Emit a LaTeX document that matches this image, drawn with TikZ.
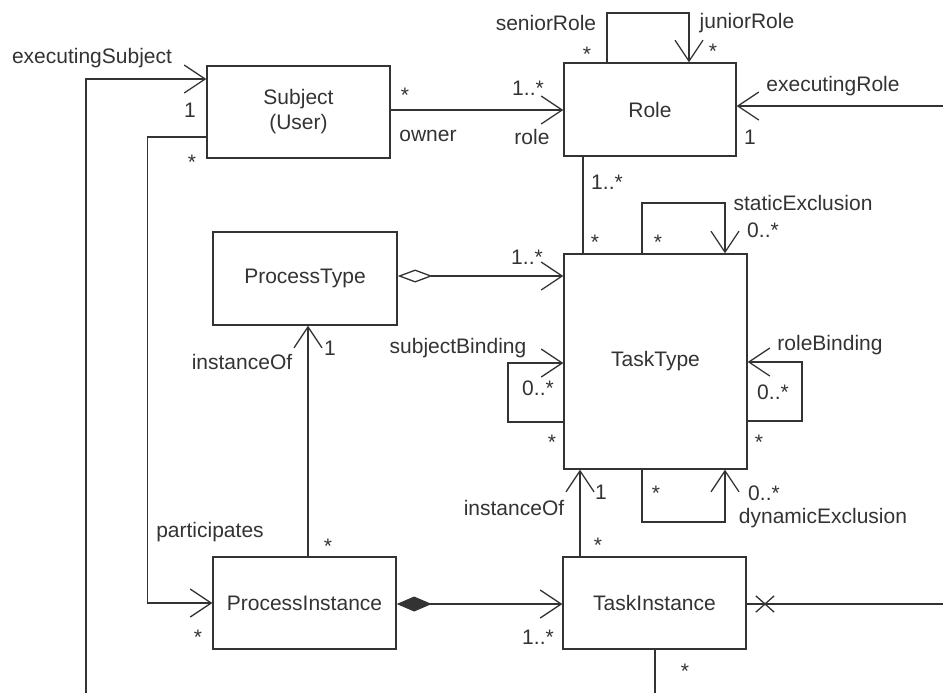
\documentclass[tikz,border=0pt]{standalone}
\usepackage{fontspec}
\setmainfont{Liberation Sans}
\usetikzlibrary{arrows.meta,shapes.misc}

\begin{document}
\begin{tikzpicture}[
x=0.5pt,
y=-0.5pt,
color=black!80,
line width=0.65pt,
font=\fontsize{10.5pt}{12.5pt}\selectfont,
class/.style={
  draw,
  rectangle,
  align=center,
  inner sep=0pt,
  minimum width=91.5pt,
  minimum height=46pt
  },
lbl/.style={
  inner sep=1pt
  },
mult/.style={
  inner sep=1pt,
  yshift=-2.3pt
  },
agg/.style={
  arrows={Diamond[open,length=17.5pt,width=6.5pt]-Straight Barb[length=10.5pt,width=14pt]}
  },
comp/.style={
  arrows={Diamond[length=17.5pt,width=7.5pt]-Straight Barb[length=10.5pt,width=14pt]}
  },
>={Straight Barb[length=10.5pt,width=14pt]}
]
\useasboundingbox (0,0) rectangle (943,693);

% classes
\node[class] (subject) at (298.5,112) {Subject\\(User)};
\node[class, minimum width=86pt, minimum height=46.5pt] (role) at (650,109.5) {Role};
\node[class, minimum width=92pt, minimum height=46.5pt] (ptype) at (305,278.5) {ProcessType};
\node[class, minimum height=107.5pt] (ttype) at (655.5,361.5) {TaskType};
\node[class] (pinst) at (304.5,603) {ProcessInstance};
\node[class] (tinst) at (654.5,603) {TaskInstance};

% loose ends at the border
\coordinate (es) at (86,693);
\coordinate (er) at (943,106);
\coordinate (ti) at (943,604);
\coordinate (tb) at (655,693);

% associations
\draw[->] (es) |- (subject.west |- 0,79);
\draw[->] (subject.west |- 0,137) -- ++(-59,0) |- (pinst.west);
\draw[->] (subject.east |- 0,110) -- (role.west |- 0,110);
\draw[->] (role.north -| 607,0) -- (607,13) -- (689,13) -- (role.north -| 689,0);
\draw[->] (er) -- (role.east |- er);
\draw (role.south -| 583,0) -- (ttype.north -| 583,0);
\draw[->] (ttype.north -| 642,0) -- (642,203) -- (725,203) -- (ttype.north -| 725,0);
\draw[->] (ttype.east |- 0,421) -- (802,421) -- (802,362) -- (ttype.east |- 0,362);
\draw[->] (ttype.west |- 0,422) -- (508,422) -- (508,363) -- (ttype.west |- 0,363);
\draw[->] (ttype.south -| 642,0) -- (642,522) -- (725,522) -- (ttype.south -| 725,0);
\draw[agg] (ptype.east |- 0,276) -- (ttype.west |- 0,276);
\draw[->] (pinst.north -| 308,0) -- (ptype.south -| 308,0);
\draw[comp] (pinst.east |- 0,604) -- (tinst.west |- 0,604);
\draw[->] (tinst.north -| 580,0) -- (ttype.south -| 580,0);
\draw (tinst.east |- ti) -- (ti);
\node[cross out, draw, inner sep=0pt, minimum width=8.5pt, minimum height=7.5pt] (xmark) at (765,604) {};
\draw (tinst.south -| tb) -- (tb);

% role names
\node[lbl] (lexsubj) at (92,58) {executingSubject};
\node[lbl] (lowner) at (428,136) {owner};
\node[lbl] (lrole) at (532,137) {role};
\node[lbl] (lsenior) at (546,23) {seniorRole};
\node[lbl] (ljunior) at (747,23) {juniorRole};
\node[lbl] (lexrole) at (833,86) {executingRole};
\node[lbl] (lstatic) at (803,203) {staticExclusion};
\node[lbl] (linst1) at (242,362) {instanceOf};
\node[lbl] (lsubjb) at (458,348) {subjectBinding};
\node[lbl] (lroleb) at (830,345) {roleBinding};
\node[lbl] (ldyn) at (823,518) {dynamicExclusion};
\node[lbl] (linst2) at (514,508) {instanceOf};
\node[lbl] (lpart) at (210,532) {participates};

% multiplicities
\node[lbl] (one1) at (190,110) {1};
\node[lbl] (one2) at (750,137) {1};
\node[lbl] (one3) at (330,348) {1};
\node[lbl] (one4) at (601,492) {1};
\node[lbl] (m1) at (528,88) {1..*};
\node[lbl] (m2) at (607,182) {1..*};
\node[lbl] (m3) at (763,230) {0..*};
\node[lbl] (m4) at (527,257) {1..*};
\node[lbl] (m5) at (538,388) {0..*};
\node[lbl] (m6) at (773,392) {0..*};
\node[lbl] (m7) at (764,493) {0..*};
\node[lbl] (m8) at (538,637) {1..*};
\foreach \sx/\sy [count=\si] in {192/158,405/91,587/50,713/47,595/238,658/238,
  552/438,759/438,656/489,598/541,328/542,198/633,685/667}
  \node[mult] (star\si) at (\sx,\sy) {*};
\end{tikzpicture}
\end{document}
